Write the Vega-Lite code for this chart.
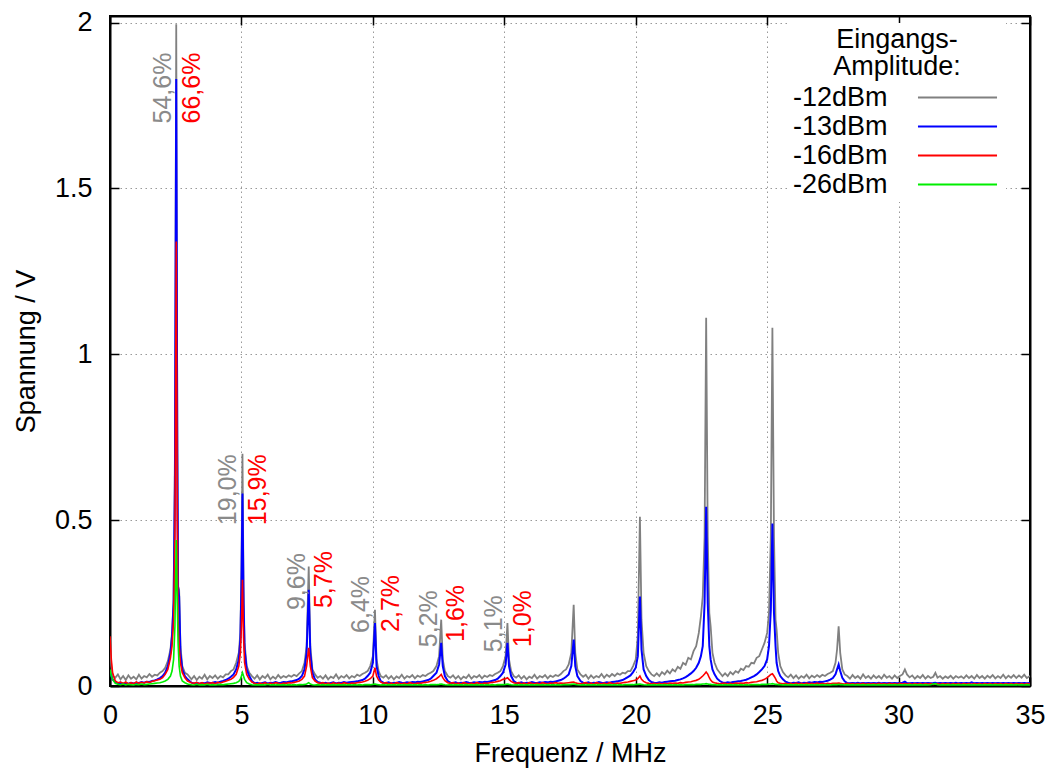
{
  "$schema": "https://vega.github.io/schema/vega-lite/v6.json",
  "width": 920,
  "height": 670,
  "autosize": {"type": "none"},
  "padding": {"left": 110, "top": 16, "right": 20, "bottom": 85},
  "background": "white",
  "config": {
    "font": "Liberation Sans",
    "view": {"stroke": "black", "strokeWidth": 2},
    "axis": {
      "labelFont": "Liberation Sans",
      "titleFont": "Liberation Sans",
      "labelFontSize": 27,
      "titleFontSize": 27,
      "titleFontWeight": "normal",
      "labelColor": "black",
      "titleColor": "black",
      "tickColor": "black",
      "tickWidth": 1.5,
      "tickSize": -9,
      "domain": true,
      "domainColor": "black",
      "domainWidth": 2,
      "labelFlush": false,
      "gridColor": "#999999",
      "gridDash": [1.5, 3.5],
      "gridWidth": 1
    }
  },
  "datasets": {
    "spec": [
      {"f":0,"a":0.12,"b":0.04,"c":0.15,"d":0.05},
      {"f":0.05,"a":0.06,"b":0.03,"c":0.08,"d":0.03},
      {"f":0.1,"a":0.03,"b":0.02,"c":0.04,"d":0.02},
      {"f":0.2,"a":0.025,"b":0.012,"c":0.015,"d":0.008},
      {"f":0.3,"a":0.035,"b":0.008,"c":0.01,"d":0.005},
      {"f":0.4,"a":0.02,"b":0.01,"c":0.012,"d":0.004},
      {"f":0.5,"a":0.03,"b":0.006,"c":0.008,"d":0.006},
      {"f":0.6,"a":0.018,"b":0.009,"c":0.012,"d":0.003},
      {"f":0.7,"a":0.032,"b":0.007,"c":0.006,"d":0.005},
      {"f":0.8,"a":0.022,"b":0.01,"c":0.01,"d":0.004},
      {"f":0.9,"a":0.028,"b":0.008,"c":0.007,"d":0.003},
      {"f":1.0,"a":0.02,"b":0.01,"c":0.012,"d":0.005},
      {"f":1.1,"a":0.034,"b":0.009,"c":0.008,"d":0.004},
      {"f":1.2,"a":0.022,"b":0.012,"c":0.011,"d":0.006},
      {"f":1.3,"a":0.03,"b":0.01,"c":0.009,"d":0.004},
      {"f":1.4,"a":0.026,"b":0.013,"c":0.013,"d":0.005},
      {"f":1.5,"a":0.036,"b":0.012,"c":0.01,"d":0.006},
      {"f":1.6,"a":0.028,"b":0.015,"c":0.014,"d":0.007},
      {"f":1.7,"a":0.034,"b":0.017,"c":0.016,"d":0.008},
      {"f":1.8,"a":0.032,"b":0.02,"c":0.018,"d":0.009},
      {"f":1.9,"a":0.04,"b":0.024,"c":0.02,"d":0.01},
      {"f":2.0,"a":0.045,"b":0.03,"c":0.025,"d":0.012},
      {"f":2.1,"a":0.055,"b":0.04,"c":0.035,"d":0.015},
      {"f":2.2,"a":0.075,"b":0.06,"c":0.05,"d":0.02},
      {"f":2.3,"a":0.11,"b":0.1,"c":0.085,"d":0.03},
      {"f":2.36,"a":0.16,"b":0.15,"c":0.12,"d":0.045},
      {"f":2.42,"a":0.26,"b":0.25,"c":0.2,"d":0.08},
      {"f":2.47,"a":0.7,"b":0.6,"c":0.45,"d":0.18},
      {"f":2.52,"a":1.995,"b":1.83,"c":1.34,"d":0.44},
      {"f":2.56,"a":0.8,"b":0.7,"c":0.5,"d":0.25},
      {"f":2.59,"a":0.3,"b":0.3,"c":0.2,"d":0.13},
      {"f":2.63,"a":0.29,"b":0.27,"c":0.12,"d":0.06},
      {"f":2.68,"a":0.12,"b":0.1,"c":0.07,"d":0.03},
      {"f":2.75,"a":0.06,"b":0.05,"c":0.04,"d":0.015},
      {"f":2.85,"a":0.04,"b":0.03,"c":0.025,"d":0.01},
      {"f":2.95,"a":0.035,"b":0.02,"c":0.015,"d":0.006},
      {"f":3.1,"a":0.02,"b":0.01,"c":0.01,"d":0.004},
      {"f":3.2,"a":0.03,"b":0.008,"c":0.008,"d":0.003},
      {"f":3.3,"a":0.018,"b":0.01,"c":0.011,"d":0.005},
      {"f":3.4,"a":0.028,"b":0.007,"c":0.007,"d":0.003},
      {"f":3.5,"a":0.022,"b":0.009,"c":0.01,"d":0.004},
      {"f":3.6,"a":0.034,"b":0.008,"c":0.006,"d":0.003},
      {"f":3.7,"a":0.02,"b":0.011,"c":0.009,"d":0.005},
      {"f":3.8,"a":0.03,"b":0.009,"c":0.008,"d":0.003},
      {"f":3.9,"a":0.024,"b":0.01,"c":0.01,"d":0.004},
      {"f":4.0,"a":0.032,"b":0.012,"c":0.007,"d":0.003},
      {"f":4.1,"a":0.022,"b":0.01,"c":0.011,"d":0.004},
      {"f":4.2,"a":0.03,"b":0.013,"c":0.009,"d":0.005},
      {"f":4.3,"a":0.026,"b":0.015,"c":0.012,"d":0.004},
      {"f":4.4,"a":0.035,"b":0.018,"c":0.014,"d":0.005},
      {"f":4.5,"a":0.035,"b":0.022,"c":0.017,"d":0.006},
      {"f":4.6,"a":0.045,"b":0.028,"c":0.02,"d":0.007},
      {"f":4.7,"a":0.05,"b":0.035,"c":0.026,"d":0.008},
      {"f":4.8,"a":0.07,"b":0.05,"c":0.035,"d":0.01},
      {"f":4.9,"a":0.1,"b":0.08,"c":0.06,"d":0.014},
      {"f":4.96,"a":0.16,"b":0.14,"c":0.1,"d":0.02},
      {"f":5.0,"a":0.35,"b":0.3,"c":0.18,"d":0.03},
      {"f":5.04,"a":0.7,"b":0.58,"c":0.32,"d":0.04},
      {"f":5.08,"a":0.3,"b":0.25,"c":0.15,"d":0.03},
      {"f":5.12,"a":0.13,"b":0.11,"c":0.07,"d":0.02},
      {"f":5.2,"a":0.06,"b":0.05,"c":0.035,"d":0.01},
      {"f":5.3,"a":0.04,"b":0.03,"c":0.02,"d":0.006},
      {"f":5.4,"a":0.03,"b":0.015,"c":0.012,"d":0.004},
      {"f":5.5,"a":0.022,"b":0.008,"c":0.008,"d":0.003},
      {"f":5.6,"a":0.032,"b":0.01,"c":0.006,"d":0.004},
      {"f":5.7,"a":0.02,"b":0.007,"c":0.009,"d":0.003},
      {"f":5.8,"a":0.03,"b":0.009,"c":0.007,"d":0.004},
      {"f":5.9,"a":0.024,"b":0.011,"c":0.01,"d":0.003},
      {"f":6.0,"a":0.034,"b":0.008,"c":0.006,"d":0.005},
      {"f":6.1,"a":0.02,"b":0.01,"c":0.009,"d":0.003},
      {"f":6.2,"a":0.028,"b":0.009,"c":0.007,"d":0.004},
      {"f":6.3,"a":0.022,"b":0.012,"c":0.01,"d":0.003},
      {"f":6.4,"a":0.033,"b":0.009,"c":0.008,"d":0.004},
      {"f":6.5,"a":0.024,"b":0.01,"c":0.006,"d":0.003},
      {"f":6.6,"a":0.03,"b":0.012,"c":0.009,"d":0.004},
      {"f":6.7,"a":0.026,"b":0.011,"c":0.008,"d":0.003},
      {"f":6.8,"a":0.032,"b":0.013,"c":0.01,"d":0.004},
      {"f":6.9,"a":0.028,"b":0.014,"c":0.009,"d":0.003},
      {"f":7.0,"a":0.034,"b":0.016,"c":0.011,"d":0.004},
      {"f":7.1,"a":0.03,"b":0.018,"c":0.013,"d":0.003},
      {"f":7.2,"a":0.038,"b":0.022,"c":0.015,"d":0.004},
      {"f":7.3,"a":0.045,"b":0.03,"c":0.02,"d":0.004},
      {"f":7.4,"a":0.07,"b":0.05,"c":0.03,"d":0.005},
      {"f":7.48,"a":0.12,"b":0.1,"c":0.06,"d":0.006},
      {"f":7.56,"a":0.36,"b":0.29,"c":0.115,"d":0.01},
      {"f":7.62,"a":0.12,"b":0.1,"c":0.06,"d":0.006},
      {"f":7.7,"a":0.05,"b":0.04,"c":0.025,"d":0.004},
      {"f":7.8,"a":0.035,"b":0.02,"c":0.015,"d":0.003},
      {"f":7.9,"a":0.025,"b":0.012,"c":0.01,"d":0.004},
      {"f":8.0,"a":0.03,"b":0.01,"c":0.008,"d":0.003},
      {"f":8.1,"a":0.022,"b":0.008,"c":0.01,"d":0.004},
      {"f":8.2,"a":0.032,"b":0.01,"c":0.007,"d":0.003},
      {"f":8.3,"a":0.02,"b":0.007,"c":0.009,"d":0.004},
      {"f":8.4,"a":0.028,"b":0.009,"c":0.006,"d":0.003},
      {"f":8.5,"a":0.024,"b":0.011,"c":0.01,"d":0.004},
      {"f":8.6,"a":0.035,"b":0.008,"c":0.007,"d":0.003},
      {"f":8.7,"a":0.022,"b":0.01,"c":0.009,"d":0.004},
      {"f":8.8,"a":0.03,"b":0.009,"c":0.006,"d":0.003},
      {"f":8.9,"a":0.025,"b":0.012,"c":0.01,"d":0.004},
      {"f":9.0,"a":0.033,"b":0.01,"c":0.008,"d":0.003},
      {"f":9.1,"a":0.023,"b":0.011,"c":0.007,"d":0.004},
      {"f":9.2,"a":0.03,"b":0.012,"c":0.009,"d":0.003},
      {"f":9.3,"a":0.026,"b":0.013,"c":0.008,"d":0.004},
      {"f":9.4,"a":0.034,"b":0.014,"c":0.01,"d":0.003},
      {"f":9.5,"a":0.03,"b":0.016,"c":0.011,"d":0.004},
      {"f":9.6,"a":0.036,"b":0.018,"c":0.012,"d":0.003},
      {"f":9.7,"a":0.04,"b":0.022,"c":0.014,"d":0.004},
      {"f":9.8,"a":0.045,"b":0.03,"c":0.017,"d":0.004},
      {"f":9.9,"a":0.06,"b":0.04,"c":0.022,"d":0.004},
      {"f":10.0,"a":0.09,"b":0.07,"c":0.03,"d":0.005},
      {"f":10.08,"a":0.23,"b":0.19,"c":0.055,"d":0.006},
      {"f":10.14,"a":0.08,"b":0.06,"c":0.03,"d":0.005},
      {"f":10.22,"a":0.045,"b":0.03,"c":0.018,"d":0.004},
      {"f":10.3,"a":0.03,"b":0.015,"c":0.012,"d":0.003},
      {"f":10.4,"a":0.025,"b":0.01,"c":0.008,"d":0.004},
      {"f":10.5,"a":0.032,"b":0.009,"c":0.01,"d":0.003},
      {"f":10.6,"a":0.022,"b":0.011,"c":0.007,"d":0.004},
      {"f":10.7,"a":0.03,"b":0.008,"c":0.009,"d":0.003},
      {"f":10.8,"a":0.02,"b":0.01,"c":0.006,"d":0.004},
      {"f":10.9,"a":0.029,"b":0.009,"c":0.01,"d":0.003},
      {"f":11.0,"a":0.024,"b":0.012,"c":0.008,"d":0.004},
      {"f":11.1,"a":0.034,"b":0.01,"c":0.007,"d":0.003},
      {"f":11.2,"a":0.022,"b":0.009,"c":0.009,"d":0.004},
      {"f":11.3,"a":0.03,"b":0.011,"c":0.006,"d":0.003},
      {"f":11.4,"a":0.026,"b":0.01,"c":0.01,"d":0.004},
      {"f":11.5,"a":0.033,"b":0.012,"c":0.008,"d":0.003},
      {"f":11.6,"a":0.023,"b":0.011,"c":0.007,"d":0.004},
      {"f":11.7,"a":0.031,"b":0.013,"c":0.009,"d":0.003},
      {"f":11.8,"a":0.027,"b":0.012,"c":0.008,"d":0.004},
      {"f":11.9,"a":0.033,"b":0.014,"c":0.01,"d":0.003},
      {"f":12.0,"a":0.03,"b":0.016,"c":0.011,"d":0.004},
      {"f":12.1,"a":0.036,"b":0.018,"c":0.012,"d":0.003},
      {"f":12.2,"a":0.04,"b":0.022,"c":0.014,"d":0.004},
      {"f":12.3,"a":0.045,"b":0.03,"c":0.017,"d":0.004},
      {"f":12.42,"a":0.06,"b":0.04,"c":0.022,"d":0.004},
      {"f":12.52,"a":0.09,"b":0.065,"c":0.028,"d":0.005},
      {"f":12.6,"a":0.2,"b":0.13,"c":0.035,"d":0.006},
      {"f":12.66,"a":0.08,"b":0.06,"c":0.025,"d":0.005},
      {"f":12.74,"a":0.045,"b":0.03,"c":0.016,"d":0.004},
      {"f":12.85,"a":0.03,"b":0.015,"c":0.01,"d":0.003},
      {"f":12.95,"a":0.025,"b":0.01,"c":0.008,"d":0.004},
      {"f":13.05,"a":0.032,"b":0.009,"c":0.01,"d":0.003},
      {"f":13.15,"a":0.022,"b":0.011,"c":0.007,"d":0.004},
      {"f":13.25,"a":0.03,"b":0.008,"c":0.009,"d":0.003},
      {"f":13.35,"a":0.02,"b":0.01,"c":0.006,"d":0.004},
      {"f":13.45,"a":0.028,"b":0.009,"c":0.01,"d":0.003},
      {"f":13.55,"a":0.024,"b":0.012,"c":0.008,"d":0.004},
      {"f":13.65,"a":0.034,"b":0.01,"c":0.007,"d":0.003},
      {"f":13.75,"a":0.022,"b":0.009,"c":0.009,"d":0.004},
      {"f":13.85,"a":0.03,"b":0.011,"c":0.006,"d":0.003},
      {"f":13.95,"a":0.026,"b":0.01,"c":0.01,"d":0.004},
      {"f":14.05,"a":0.033,"b":0.012,"c":0.008,"d":0.003},
      {"f":14.15,"a":0.023,"b":0.011,"c":0.007,"d":0.004},
      {"f":14.25,"a":0.031,"b":0.013,"c":0.009,"d":0.003},
      {"f":14.35,"a":0.027,"b":0.012,"c":0.008,"d":0.004},
      {"f":14.45,"a":0.033,"b":0.014,"c":0.01,"d":0.003},
      {"f":14.55,"a":0.03,"b":0.016,"c":0.011,"d":0.004},
      {"f":14.65,"a":0.036,"b":0.018,"c":0.012,"d":0.003},
      {"f":14.75,"a":0.04,"b":0.022,"c":0.014,"d":0.004},
      {"f":14.85,"a":0.045,"b":0.03,"c":0.016,"d":0.004},
      {"f":14.95,"a":0.06,"b":0.04,"c":0.02,"d":0.004},
      {"f":15.05,"a":0.09,"b":0.065,"c":0.022,"d":0.005},
      {"f":15.12,"a":0.19,"b":0.13,"c":0.025,"d":0.006},
      {"f":15.18,"a":0.08,"b":0.06,"c":0.02,"d":0.005},
      {"f":15.26,"a":0.045,"b":0.03,"c":0.014,"d":0.004},
      {"f":15.36,"a":0.03,"b":0.015,"c":0.01,"d":0.003},
      {"f":15.45,"a":0.025,"b":0.01,"c":0.008,"d":0.004},
      {"f":15.55,"a":0.032,"b":0.009,"c":0.01,"d":0.003},
      {"f":15.65,"a":0.022,"b":0.011,"c":0.007,"d":0.004},
      {"f":15.75,"a":0.03,"b":0.008,"c":0.009,"d":0.003},
      {"f":15.85,"a":0.02,"b":0.01,"c":0.006,"d":0.004},
      {"f":15.95,"a":0.028,"b":0.009,"c":0.01,"d":0.003},
      {"f":16.05,"a":0.024,"b":0.012,"c":0.008,"d":0.004},
      {"f":16.15,"a":0.034,"b":0.01,"c":0.007,"d":0.003},
      {"f":16.25,"a":0.022,"b":0.009,"c":0.009,"d":0.004},
      {"f":16.35,"a":0.03,"b":0.011,"c":0.006,"d":0.003},
      {"f":16.45,"a":0.026,"b":0.01,"c":0.01,"d":0.004},
      {"f":16.55,"a":0.033,"b":0.012,"c":0.008,"d":0.003},
      {"f":16.65,"a":0.023,"b":0.011,"c":0.007,"d":0.004},
      {"f":16.75,"a":0.031,"b":0.013,"c":0.009,"d":0.003},
      {"f":16.85,"a":0.027,"b":0.012,"c":0.008,"d":0.004},
      {"f":16.95,"a":0.033,"b":0.014,"c":0.01,"d":0.003},
      {"f":17.05,"a":0.03,"b":0.016,"c":0.008,"d":0.004},
      {"f":17.15,"a":0.036,"b":0.018,"c":0.009,"d":0.003},
      {"f":17.25,"a":0.045,"b":0.022,"c":0.008,"d":0.004},
      {"f":17.35,"a":0.05,"b":0.028,"c":0.009,"d":0.004},
      {"f":17.45,"a":0.065,"b":0.035,"c":0.01,"d":0.004},
      {"f":17.55,"a":0.1,"b":0.06,"c":0.011,"d":0.005},
      {"f":17.64,"a":0.245,"b":0.14,"c":0.012,"d":0.006},
      {"f":17.7,"a":0.1,"b":0.06,"c":0.01,"d":0.005},
      {"f":17.78,"a":0.05,"b":0.03,"c":0.008,"d":0.004},
      {"f":17.9,"a":0.035,"b":0.015,"c":0.007,"d":0.003},
      {"f":18.0,"a":0.028,"b":0.01,"c":0.008,"d":0.004},
      {"f":18.1,"a":0.034,"b":0.009,"c":0.01,"d":0.003},
      {"f":18.2,"a":0.022,"b":0.011,"c":0.007,"d":0.004},
      {"f":18.3,"a":0.032,"b":0.008,"c":0.009,"d":0.003},
      {"f":18.4,"a":0.024,"b":0.01,"c":0.006,"d":0.004},
      {"f":18.5,"a":0.03,"b":0.009,"c":0.01,"d":0.003},
      {"f":18.6,"a":0.026,"b":0.012,"c":0.008,"d":0.004},
      {"f":18.7,"a":0.036,"b":0.01,"c":0.007,"d":0.003},
      {"f":18.8,"a":0.025,"b":0.009,"c":0.009,"d":0.004},
      {"f":18.9,"a":0.034,"b":0.011,"c":0.006,"d":0.003},
      {"f":19.0,"a":0.028,"b":0.01,"c":0.01,"d":0.004},
      {"f":19.1,"a":0.036,"b":0.012,"c":0.008,"d":0.003},
      {"f":19.2,"a":0.03,"b":0.013,"c":0.007,"d":0.004},
      {"f":19.3,"a":0.038,"b":0.014,"c":0.009,"d":0.003},
      {"f":19.4,"a":0.034,"b":0.016,"c":0.008,"d":0.004},
      {"f":19.5,"a":0.04,"b":0.018,"c":0.01,"d":0.003},
      {"f":19.6,"a":0.038,"b":0.022,"c":0.011,"d":0.004},
      {"f":19.7,"a":0.045,"b":0.027,"c":0.012,"d":0.004},
      {"f":19.8,"a":0.045,"b":0.032,"c":0.014,"d":0.004},
      {"f":19.9,"a":0.06,"b":0.042,"c":0.016,"d":0.004},
      {"f":20.0,"a":0.08,"b":0.055,"c":0.018,"d":0.005},
      {"f":20.08,"a":0.15,"b":0.09,"c":0.022,"d":0.005},
      {"f":20.16,"a":0.51,"b":0.27,"c":0.03,"d":0.006},
      {"f":20.22,"a":0.2,"b":0.11,"c":0.02,"d":0.005},
      {"f":20.3,"a":0.1,"b":0.05,"c":0.014,"d":0.004},
      {"f":20.4,"a":0.06,"b":0.03,"c":0.01,"d":0.003},
      {"f":20.5,"a":0.045,"b":0.018,"c":0.008,"d":0.004},
      {"f":20.6,"a":0.035,"b":0.012,"c":0.007,"d":0.003},
      {"f":20.7,"a":0.03,"b":0.01,"c":0.008,"d":0.004},
      {"f":20.8,"a":0.038,"b":0.009,"c":0.007,"d":0.003},
      {"f":20.9,"a":0.03,"b":0.011,"c":0.008,"d":0.004},
      {"f":21.0,"a":0.042,"b":0.01,"c":0.006,"d":0.003},
      {"f":21.1,"a":0.035,"b":0.012,"c":0.008,"d":0.004},
      {"f":21.2,"a":0.046,"b":0.013,"c":0.007,"d":0.003},
      {"f":21.3,"a":0.038,"b":0.014,"c":0.009,"d":0.004},
      {"f":21.4,"a":0.05,"b":0.015,"c":0.008,"d":0.003},
      {"f":21.5,"a":0.044,"b":0.016,"c":0.009,"d":0.004},
      {"f":21.6,"a":0.058,"b":0.018,"c":0.008,"d":0.003},
      {"f":21.7,"a":0.052,"b":0.02,"c":0.01,"d":0.004},
      {"f":21.8,"a":0.07,"b":0.023,"c":0.009,"d":0.003},
      {"f":21.9,"a":0.064,"b":0.027,"c":0.011,"d":0.004},
      {"f":22.0,"a":0.085,"b":0.032,"c":0.012,"d":0.004},
      {"f":22.1,"a":0.08,"b":0.038,"c":0.013,"d":0.004},
      {"f":22.2,"a":0.105,"b":0.045,"c":0.015,"d":0.004},
      {"f":22.3,"a":0.12,"b":0.055,"c":0.017,"d":0.005},
      {"f":22.4,"a":0.16,"b":0.07,"c":0.02,"d":0.005},
      {"f":22.48,"a":0.21,"b":0.09,"c":0.025,"d":0.005},
      {"f":22.55,"a":0.27,"b":0.12,"c":0.03,"d":0.006},
      {"f":22.62,"a":0.45,"b":0.25,"c":0.036,"d":0.006},
      {"f":22.68,"a":1.11,"b":0.54,"c":0.042,"d":0.007},
      {"f":22.74,"a":0.45,"b":0.25,"c":0.036,"d":0.006},
      {"f":22.8,"a":0.22,"b":0.12,"c":0.025,"d":0.005},
      {"f":22.85,"a":0.18,"b":0.08,"c":0.018,"d":0.005},
      {"f":22.92,"a":0.1,"b":0.05,"c":0.012,"d":0.004},
      {"f":23.0,"a":0.07,"b":0.035,"c":0.01,"d":0.004},
      {"f":23.1,"a":0.05,"b":0.022,"c":0.008,"d":0.003},
      {"f":23.2,"a":0.04,"b":0.015,"c":0.007,"d":0.004},
      {"f":23.3,"a":0.03,"b":0.011,"c":0.008,"d":0.003},
      {"f":23.4,"a":0.038,"b":0.009,"c":0.008,"d":0.004},
      {"f":23.5,"a":0.03,"b":0.011,"c":0.006,"d":0.003},
      {"f":23.6,"a":0.042,"b":0.01,"c":0.008,"d":0.004},
      {"f":23.7,"a":0.035,"b":0.012,"c":0.007,"d":0.003},
      {"f":23.8,"a":0.045,"b":0.013,"c":0.009,"d":0.004},
      {"f":23.9,"a":0.04,"b":0.014,"c":0.008,"d":0.003},
      {"f":24.0,"a":0.052,"b":0.015,"c":0.009,"d":0.004},
      {"f":24.1,"a":0.048,"b":0.017,"c":0.008,"d":0.003},
      {"f":24.2,"a":0.06,"b":0.019,"c":0.01,"d":0.004},
      {"f":24.3,"a":0.058,"b":0.022,"c":0.009,"d":0.003},
      {"f":24.4,"a":0.07,"b":0.026,"c":0.011,"d":0.004},
      {"f":24.5,"a":0.068,"b":0.03,"c":0.012,"d":0.004},
      {"f":24.6,"a":0.085,"b":0.035,"c":0.013,"d":0.004},
      {"f":24.7,"a":0.09,"b":0.042,"c":0.015,"d":0.004},
      {"f":24.8,"a":0.11,"b":0.05,"c":0.017,"d":0.005},
      {"f":24.9,"a":0.13,"b":0.06,"c":0.02,"d":0.005},
      {"f":25.0,"a":0.16,"b":0.08,"c":0.025,"d":0.005},
      {"f":25.07,"a":0.22,"b":0.12,"c":0.03,"d":0.006},
      {"f":25.14,"a":0.45,"b":0.23,"c":0.035,"d":0.006},
      {"f":25.2,"a":1.08,"b":0.49,"c":0.037,"d":0.007},
      {"f":25.26,"a":0.45,"b":0.22,"c":0.03,"d":0.006},
      {"f":25.32,"a":0.2,"b":0.12,"c":0.022,"d":0.005},
      {"f":25.36,"a":0.17,"b":0.07,"c":0.015,"d":0.005},
      {"f":25.42,"a":0.1,"b":0.045,"c":0.01,"d":0.004},
      {"f":25.5,"a":0.06,"b":0.03,"c":0.008,"d":0.004},
      {"f":25.6,"a":0.042,"b":0.02,"c":0.007,"d":0.003},
      {"f":25.7,"a":0.032,"b":0.013,"c":0.008,"d":0.004},
      {"f":25.8,"a":0.026,"b":0.01,"c":0.006,"d":0.003},
      {"f":25.9,"a":0.034,"b":0.008,"c":0.008,"d":0.004},
      {"f":26.0,"a":0.024,"b":0.01,"c":0.006,"d":0.003},
      {"f":26.1,"a":0.032,"b":0.009,"c":0.009,"d":0.004},
      {"f":26.2,"a":0.022,"b":0.011,"c":0.007,"d":0.003},
      {"f":26.3,"a":0.03,"b":0.008,"c":0.008,"d":0.004},
      {"f":26.4,"a":0.025,"b":0.01,"c":0.006,"d":0.003},
      {"f":26.5,"a":0.034,"b":0.009,"c":0.009,"d":0.004},
      {"f":26.6,"a":0.023,"b":0.011,"c":0.007,"d":0.003},
      {"f":26.7,"a":0.031,"b":0.01,"c":0.008,"d":0.004},
      {"f":26.8,"a":0.026,"b":0.012,"c":0.006,"d":0.003},
      {"f":26.9,"a":0.033,"b":0.011,"c":0.009,"d":0.004},
      {"f":27.0,"a":0.027,"b":0.013,"c":0.007,"d":0.003},
      {"f":27.1,"a":0.034,"b":0.012,"c":0.008,"d":0.004},
      {"f":27.2,"a":0.03,"b":0.014,"c":0.006,"d":0.003},
      {"f":27.3,"a":0.036,"b":0.016,"c":0.008,"d":0.004},
      {"f":27.4,"a":0.04,"b":0.019,"c":0.007,"d":0.003},
      {"f":27.5,"a":0.045,"b":0.024,"c":0.008,"d":0.004},
      {"f":27.6,"a":0.07,"b":0.035,"c":0.008,"d":0.004},
      {"f":27.66,"a":0.11,"b":0.05,"c":0.008,"d":0.004},
      {"f":27.72,"a":0.18,"b":0.065,"c":0.009,"d":0.005},
      {"f":27.78,"a":0.1,"b":0.045,"c":0.008,"d":0.004},
      {"f":27.86,"a":0.05,"b":0.025,"c":0.007,"d":0.004},
      {"f":27.95,"a":0.035,"b":0.014,"c":0.006,"d":0.003},
      {"f":28.05,"a":0.03,"b":0.009,"c":0.008,"d":0.004},
      {"f":28.15,"a":0.022,"b":0.008,"c":0.006,"d":0.003},
      {"f":28.25,"a":0.033,"b":0.009,"c":0.007,"d":0.004},
      {"f":28.35,"a":0.024,"b":0.008,"c":0.005,"d":0.003},
      {"f":28.45,"a":0.03,"b":0.01,"c":0.007,"d":0.004},
      {"f":28.55,"a":0.022,"b":0.008,"c":0.006,"d":0.003},
      {"f":28.65,"a":0.035,"b":0.009,"c":0.008,"d":0.004},
      {"f":28.75,"a":0.024,"b":0.008,"c":0.005,"d":0.003},
      {"f":28.85,"a":0.03,"b":0.009,"c":0.007,"d":0.004},
      {"f":28.95,"a":0.022,"b":0.008,"c":0.006,"d":0.003},
      {"f":29.05,"a":0.032,"b":0.009,"c":0.007,"d":0.004},
      {"f":29.15,"a":0.024,"b":0.008,"c":0.005,"d":0.003},
      {"f":29.25,"a":0.03,"b":0.01,"c":0.008,"d":0.004},
      {"f":29.35,"a":0.022,"b":0.008,"c":0.006,"d":0.003},
      {"f":29.45,"a":0.034,"b":0.009,"c":0.007,"d":0.004},
      {"f":29.55,"a":0.025,"b":0.008,"c":0.005,"d":0.003},
      {"f":29.65,"a":0.03,"b":0.009,"c":0.008,"d":0.004},
      {"f":29.75,"a":0.022,"b":0.008,"c":0.006,"d":0.003},
      {"f":29.85,"a":0.032,"b":0.009,"c":0.007,"d":0.004},
      {"f":29.95,"a":0.024,"b":0.008,"c":0.005,"d":0.003},
      {"f":30.05,"a":0.03,"b":0.009,"c":0.008,"d":0.004},
      {"f":30.15,"a":0.035,"b":0.01,"c":0.006,"d":0.003},
      {"f":30.24,"a":0.05,"b":0.013,"c":0.007,"d":0.004},
      {"f":30.32,"a":0.035,"b":0.009,"c":0.006,"d":0.003},
      {"f":30.42,"a":0.026,"b":0.008,"c":0.007,"d":0.004},
      {"f":30.52,"a":0.032,"b":0.009,"c":0.005,"d":0.003},
      {"f":30.62,"a":0.022,"b":0.008,"c":0.007,"d":0.004},
      {"f":30.72,"a":0.03,"b":0.009,"c":0.006,"d":0.003},
      {"f":30.82,"a":0.024,"b":0.008,"c":0.007,"d":0.004},
      {"f":30.92,"a":0.033,"b":0.009,"c":0.005,"d":0.003},
      {"f":31.02,"a":0.022,"b":0.008,"c":0.007,"d":0.004},
      {"f":31.12,"a":0.03,"b":0.009,"c":0.006,"d":0.003},
      {"f":31.22,"a":0.024,"b":0.008,"c":0.007,"d":0.004},
      {"f":31.32,"a":0.028,"b":0.009,"c":0.005,"d":0.006},
      {"f":31.4,"a":0.04,"b":0.01,"c":0.006,"d":0.007},
      {"f":31.48,"a":0.025,"b":0.008,"c":0.007,"d":0.004},
      {"f":31.58,"a":0.03,"b":0.009,"c":0.005,"d":0.003},
      {"f":31.68,"a":0.022,"b":0.008,"c":0.007,"d":0.004},
      {"f":31.78,"a":0.029,"b":0.009,"c":0.006,"d":0.003},
      {"f":31.88,"a":0.024,"b":0.008,"c":0.007,"d":0.004},
      {"f":31.98,"a":0.031,"b":0.009,"c":0.005,"d":0.003},
      {"f":32.08,"a":0.022,"b":0.008,"c":0.007,"d":0.004},
      {"f":32.18,"a":0.03,"b":0.01,"c":0.006,"d":0.003},
      {"f":32.28,"a":0.025,"b":0.008,"c":0.007,"d":0.004},
      {"f":32.38,"a":0.029,"b":0.009,"c":0.005,"d":0.003},
      {"f":32.48,"a":0.023,"b":0.008,"c":0.007,"d":0.004},
      {"f":32.58,"a":0.032,"b":0.009,"c":0.006,"d":0.003},
      {"f":32.68,"a":0.024,"b":0.008,"c":0.007,"d":0.004},
      {"f":32.78,"a":0.03,"b":0.011,"c":0.005,"d":0.003},
      {"f":32.88,"a":0.022,"b":0.008,"c":0.007,"d":0.004},
      {"f":32.98,"a":0.033,"b":0.009,"c":0.006,"d":0.003},
      {"f":33.08,"a":0.024,"b":0.008,"c":0.007,"d":0.004},
      {"f":33.18,"a":0.03,"b":0.009,"c":0.005,"d":0.003},
      {"f":33.28,"a":0.022,"b":0.008,"c":0.007,"d":0.004},
      {"f":33.38,"a":0.031,"b":0.009,"c":0.006,"d":0.003},
      {"f":33.48,"a":0.025,"b":0.008,"c":0.007,"d":0.004},
      {"f":33.58,"a":0.033,"b":0.009,"c":0.005,"d":0.003},
      {"f":33.68,"a":0.023,"b":0.008,"c":0.007,"d":0.004},
      {"f":33.78,"a":0.03,"b":0.009,"c":0.006,"d":0.003},
      {"f":33.88,"a":0.024,"b":0.008,"c":0.007,"d":0.004},
      {"f":33.98,"a":0.034,"b":0.009,"c":0.005,"d":0.003},
      {"f":34.08,"a":0.023,"b":0.008,"c":0.007,"d":0.004},
      {"f":34.18,"a":0.031,"b":0.009,"c":0.006,"d":0.003},
      {"f":34.28,"a":0.025,"b":0.008,"c":0.007,"d":0.004},
      {"f":34.38,"a":0.033,"b":0.009,"c":0.005,"d":0.003},
      {"f":34.48,"a":0.024,"b":0.008,"c":0.007,"d":0.004},
      {"f":34.58,"a":0.032,"b":0.009,"c":0.006,"d":0.003},
      {"f":34.68,"a":0.025,"b":0.008,"c":0.007,"d":0.004},
      {"f":34.78,"a":0.034,"b":0.009,"c":0.005,"d":0.003},
      {"f":34.88,"a":0.024,"b":0.008,"c":0.007,"d":0.004},
      {"f":35.0,"a":0.03,"b":0.009,"c":0.006,"d":0.003}
    ],
    "ann": [
      {"f":2.02,"v":1.696,"t":"54,6%","s":"g"},
      {"f":3.12,"v":1.696,"t":"66,6%","s":"r"},
      {"f":4.49,"v":0.485,"t":"19,0%","s":"g"},
      {"f":5.63,"v":0.485,"t":"15,9%","s":"r"},
      {"f":7.11,"v":0.229,"t":"9,6%","s":"g"},
      {"f":8.14,"v":0.235,"t":"5,7%","s":"r"},
      {"f":9.55,"v":0.16,"t":"6,4%","s":"g"},
      {"f":10.69,"v":0.163,"t":"2,7%","s":"r"},
      {"f":12.13,"v":0.117,"t":"5,2%","s":"g"},
      {"f":13.16,"v":0.133,"t":"1,6%","s":"r"},
      {"f":14.6,"v":0.102,"t":"5,1%","s":"g"},
      {"f":15.71,"v":0.117,"t":"1,0%","s":"r"}
    ]
  },
  "data": {"name": "spec"},
  "layer": [
    {
      "mark": {"type": "line", "strokeWidth": 1.8, "clip": true},
      "encoding": {
        "x": {"field": "f", "type": "quantitative",
              "scale": {"domain": [0, 35], "nice": false, "zero": false},
              "axis": {"orient": "bottom", "values": [0,5,10,15,20,25,30,35], "title": "Frequenz / MHz",
                       "labelPadding": 25, "titlePadding": 12, "grid": true}},
        "y": {"field": "a", "type": "quantitative",
              "scale": {"domain": [0, 2.02], "nice": false},
              "axis": {"orient": "left", "values": [0,0.5,1,1.5,2], "format": "~g", "title": "Spannung / V",
                       "labelPadding": 27, "titlePadding": 14, "grid": true}},
        "color": {"datum": "-12dBm", "type": "nominal",
                  "scale": {"domain": ["-12dBm","-13dBm","-16dBm","-26dBm"], "range": ["#808080","#0000ff","#ff0000","#00ee00"]},
                  "legend": {
                    "title": ["Eingangs-", "Amplitude:"],
                    "orient": "none", "legendX": 679, "legendY": 7,
                    "titleFontSize": 27, "titleFontWeight": "normal", "titleColor": "black",
                    "titleAnchor": "middle", "titleAlign": "center", "titleLineHeight": 27, "titlePadding": 3,
                    "labelFontSize": 27, "labelColor": "black", "labelOffset": -178, "labelLimit": 0,
                    "symbolType": "M-5,0H5", "symbolSize": 250, "symbolStrokeWidth": 2, "symbolOffset": 151,
                    "rowPadding": 1, "fillColor": "white", "padding": 4
                  }}
      }
    },
    {
      "mark": {"type": "line", "strokeWidth": 2, "clip": true},
      "encoding": {
        "x": {"field": "f", "type": "quantitative", "axis": null},
        "y": {"field": "b", "type": "quantitative", "axis": null},
        "color": {"datum": "-13dBm", "type": "nominal"}
      }
    },
    {
      "mark": {"type": "line", "strokeWidth": 1.6, "clip": true},
      "encoding": {
        "x": {"field": "f", "type": "quantitative", "axis": null},
        "y": {"field": "c", "type": "quantitative", "axis": null},
        "color": {"datum": "-16dBm", "type": "nominal"}
      }
    },
    {
      "mark": {"type": "line", "strokeWidth": 1.6, "clip": true},
      "encoding": {
        "x": {"field": "f", "type": "quantitative",
              "axis": {"orient": "top", "values": [0,5,10,15,20,25,30,35], "labels": false, "title": null, "grid": false}},
        "y": {"field": "d", "type": "quantitative",
              "axis": {"orient": "right", "values": [0,0.5,1,1.5,2], "labels": false, "title": null, "grid": false}},
        "color": {"datum": "-26dBm", "type": "nominal"}
      }
    },
    {
      "data": {"name": "ann"},
      "transform": [{"filter": "datum.s == 'g'"}],
      "mark": {"type": "text", "angle": 270, "align": "left", "baseline": "middle", "fontSize": 25, "color": "#8a8a8a", "font": "Liberation Sans"},
      "encoding": {
        "x": {"field": "f", "type": "quantitative", "axis": null},
        "y": {"field": "v", "type": "quantitative", "axis": null},
        "text": {"field": "t"}
      }
    },
    {
      "data": {"name": "ann"},
      "transform": [{"filter": "datum.s == 'r'"}],
      "mark": {"type": "text", "angle": 270, "align": "left", "baseline": "middle", "fontSize": 25, "color": "#ff0000", "font": "Liberation Sans"},
      "encoding": {
        "x": {"field": "f", "type": "quantitative", "axis": null},
        "y": {"field": "v", "type": "quantitative", "axis": null},
        "text": {"field": "t"}
      }
    }
  ],
  "resolve": {"axis": {"x": "independent", "y": "independent"}}
}
